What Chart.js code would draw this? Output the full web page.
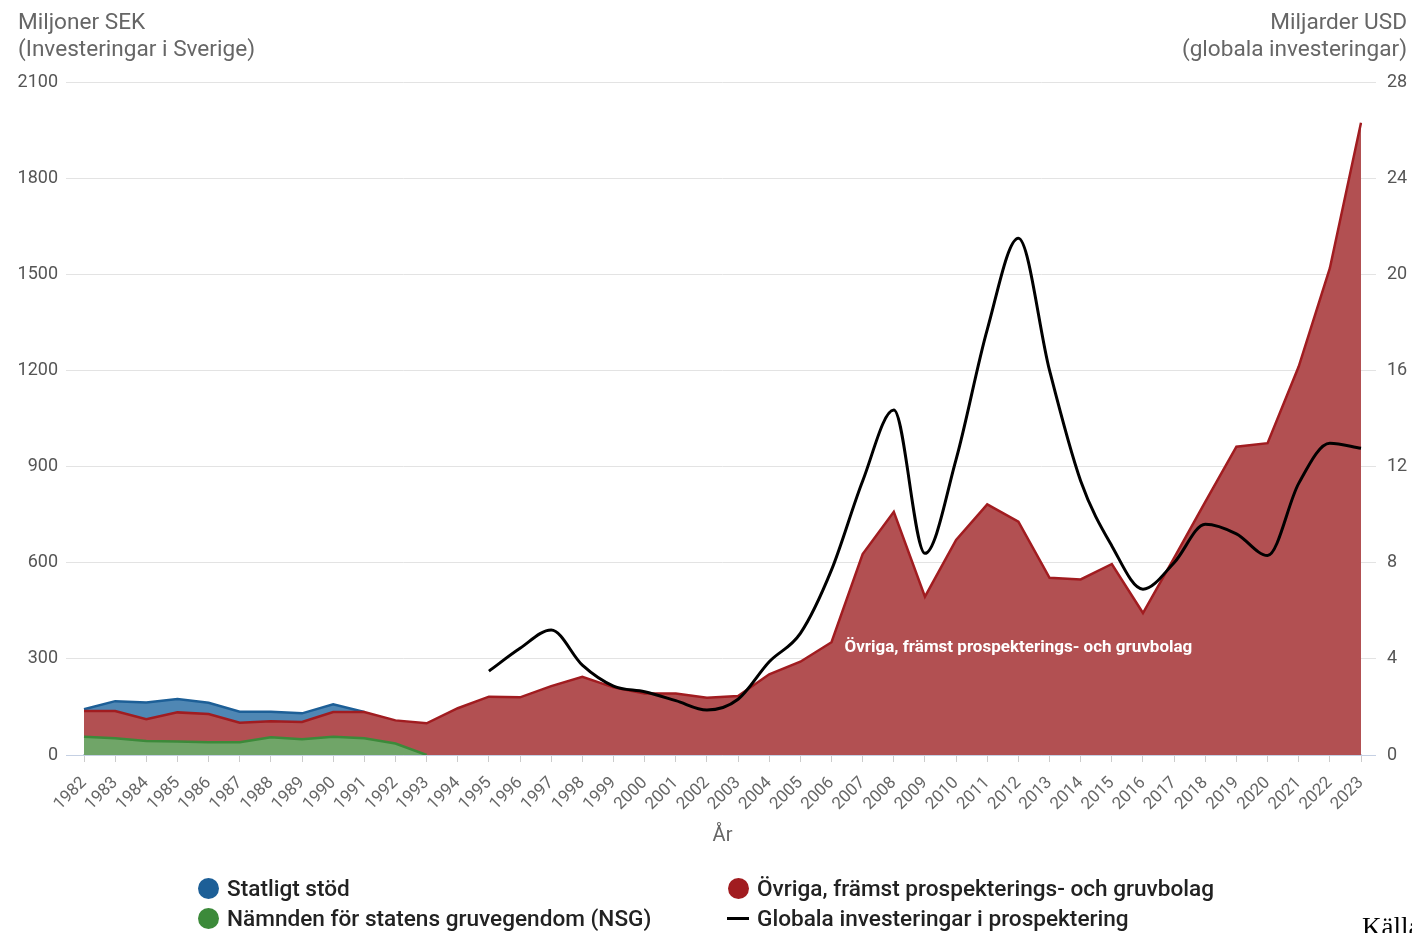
<!DOCTYPE html>
<html>
<head>
<meta charset="utf-8">
<script src="https://cdn.jsdelivr.net/npm/chart.js@4"></script>
<style>
  body { margin: 0; background: #fff; font-family: Roboto, sans-serif; overflow: hidden; }
  #wrap { position: relative; width: 1412px; height: 933px; overflow: hidden; }
  .axt { position: absolute; color: #666; font-size: 22.6px; line-height: 27px; }
  .leg { position: absolute; font-size: 22.6px; font-weight: 500; color: #222; white-space: nowrap; }
  .dot { display: inline-block; width: 21px; height: 21px; border-radius: 50%; vertical-align: -3px; margin-right: 8px; }
  .dash { display: inline-block; width: 22px; height: 3px; background: #000; vertical-align: 6px; margin-right: 8px; }
  #src { position: absolute; left: 1362px; top: 912px; font-family: "Liberation Serif", serif; font-size: 27px; color: #000; white-space: nowrap; }
</style>
</head>
<body>
<div id="wrap">
  <canvas id="minChart" width="1412" height="933"></canvas>
  <div class="axt" style="left:18px;top:8px;">Miljoner SEK<br>(Investeringar i Sverige)</div>
  <div class="axt" style="right:5px;top:8px;text-align:right;">Miljarder USD<br>(globala investeringar)</div>
  <div id="legend"></div>
  <div id="src">Källa</div>
</div>
<script>
// years
const years = [];
for (let y = 1982; y <= 2023; y++) years.push(String(y));

// Nämnden för statens gruvegendom (NSG), MSEK
const nsg = [57, 52, 44, 42, 40, 40, 55, 49, 57, 52, 36, 0];

// Övriga, främst prospekterings- och gruvbolag, MSEK
const ovriga = [80, 85, 68, 91, 88, 61, 50, 54, 77, 82, 72, 99,
  146, 182, 180, 215, 244, 211, 192, 192, 179, 184, 252, 291, 352, 627,
  759, 494, 671, 782, 728, 553, 548, 596, 443, 615, 790, 962, 973, 1212, 1519, 1973];

// Statligt stöd, MSEK
const statligt = [6, 31, 52, 42, 35, 34, 30, 27, 24, 0];

// Globala investeringar i prospektering, miljarder USD (från 1995)
const globala = [null, null, null, null, null, null, null, null, null, null, null, null, null,
  3.49, 4.44, 5.2, 3.74, 2.87, 2.63, 2.26, 1.87, 2.32, 3.88, 5.06, 7.7, 11.4,
  14.35, 8.39, 12.3, 17.7, 21.5, 16.0, 11.4, 8.7, 6.9, 8.0, 9.6, 9.2, 8.3, 11.3, 12.97, 12.76];

const leftTicks = [0, 300, 600, 900, 1200, 1500, 1800, 2100];
const rightTicks = [0, 4, 8, 12, 16, 20, 24, 28];

const pad = (arr) => years.map((_, i) => (i < arr.length ? arr[i] : null));

Chart.defaults.font.family = "Roboto";

const gridCol = (c) => (c.tick && c.tick.value === 0 ? "#c5d0e3" : "#e3e3e3");

// text label inside the red area
const areaLabel = {
  id: "areaLabel",
  afterDatasetsDraw(chart) {
    const c = chart.ctx;
    const x = chart.scales.x.getPixelForValue(years.indexOf("2012"));
    const y = chart.scales.y.getPixelForValue(335);
    c.save();
    c.fillStyle = "#fff";
    c.font = "bold 17px Roboto";
    c.textAlign = "center";
    c.textBaseline = "middle";
    c.fillText("Övriga, främst prospekterings- och gruvbolag", x, y);
    c.restore();
  },
};

const ctx = document.getElementById("minChart").getContext("2d");
const minChart = new Chart(ctx, {
  type: "line",
  data: {
    labels: years,
    datasets: [
      {
        label: "Globala investeringar i prospektering",
        data: globala,
        yAxisID: "y1",
        borderColor: "#000",
        borderWidth: 3,
        pointRadius: 0,
        cubicInterpolationMode: "monotone",
        fill: false,
        order: 0,
      },
      {
        label: "Nämnden för statens gruvegendom (NSG)",
        data: pad(nsg),
        yAxisID: "y",
        borderColor: "#3c8a3a",
        backgroundColor: "#70a568",
        borderWidth: 2.5,
        pointRadius: 0,
        fill: "origin",
        order: 1,
      },
      {
        label: "Övriga, främst prospekterings- och gruvbolag",
        data: ovriga,
        yAxisID: "y",
        borderColor: "#a11c20",
        backgroundColor: "#b25052",
        borderWidth: 2.5,
        pointRadius: 0,
        fill: "origin",
        order: 2,
      },
      {
        label: "Statligt stöd",
        data: pad(statligt),
        yAxisID: "y",
        borderColor: "#1d5f97",
        backgroundColor: "#4f87b4",
        borderWidth: 2.5,
        pointRadius: 0,
        fill: "origin",
        order: 3,
      },
    ],
  },
  options: {
    responsive: false,
    animation: false,
    layout: { padding: { top: 82, bottom: 78, left: 0, right: 0 } },
    plugins: { legend: { display: false }, tooltip: { enabled: false } },
    scales: {
      x: {
        offset: false,
        grid: { drawOnChartArea: false, tickLength: 7, color: "#ccc" },
        border: { color: "#c5d0e3", width: 1.5 },
        ticks: { autoSkip: false, minRotation: 45, maxRotation: 45, color: "#666", font: { size: 17 }, padding: 11 },
        title: { display: true, text: "År", color: "#666", font: { size: 20 }, padding: { top: 0, bottom: 7 } },
        afterFit: (s) => { s.height = 100; },
      },
      y: {
        position: "left",
        stacked: true,
        min: 0,
        max: 2100,
        afterBuildTicks: (s) => { s.ticks = leftTicks.map((v) => ({ value: v })); },
        grid: { color: gridCol, tickLength: 18 },
        border: { display: false },
        ticks: { color: "#555", font: { size: 18 }, padding: 8, callback: (v) => String(v) },
        afterFit: (s) => { s.width = 84; },
      },
      y1: {
        position: "right",
        stacked: false,
        min: 0,
        max: 28,
        afterBuildTicks: (s) => { s.ticks = rightTicks.map((v) => ({ value: v })); },
        grid: { drawOnChartArea: false, color: gridCol, tickLength: 15 },
        border: { display: false },
        ticks: { color: "#555", font: { size: 18 }, padding: 11, callback: (v) => String(v) },
        afterFit: (s) => { s.width = 51; },
      },
    },
  },
  plugins: [areaLabel],
});

// legend in two columns
const legendItems = [
  { text: "Statligt stöd", color: "#1d5f97", left: 198, top: 875 },
  { text: "Nämnden för statens gruvegendom (NSG)", color: "#3c8a3a", left: 198, top: 905 },
  { text: "Övriga, främst prospekterings- och gruvbolag", color: "#a11c20", left: 728, top: 875 },
  { text: "Globala investeringar i prospektering", line: true, left: 727, top: 905 },
];
const legendBox = document.getElementById("legend");
legendItems.forEach((it) => {
  const d = document.createElement("div");
  d.className = "leg";
  d.style.left = it.left + "px";
  d.style.top = it.top + "px";
  const mark = document.createElement("span");
  if (it.line) {
    mark.className = "dash";
  } else {
    mark.className = "dot";
    mark.style.background = it.color;
  }
  d.appendChild(mark);
  d.appendChild(document.createTextNode(it.text));
  legendBox.appendChild(d);
});
</script>
</body>
</html>
